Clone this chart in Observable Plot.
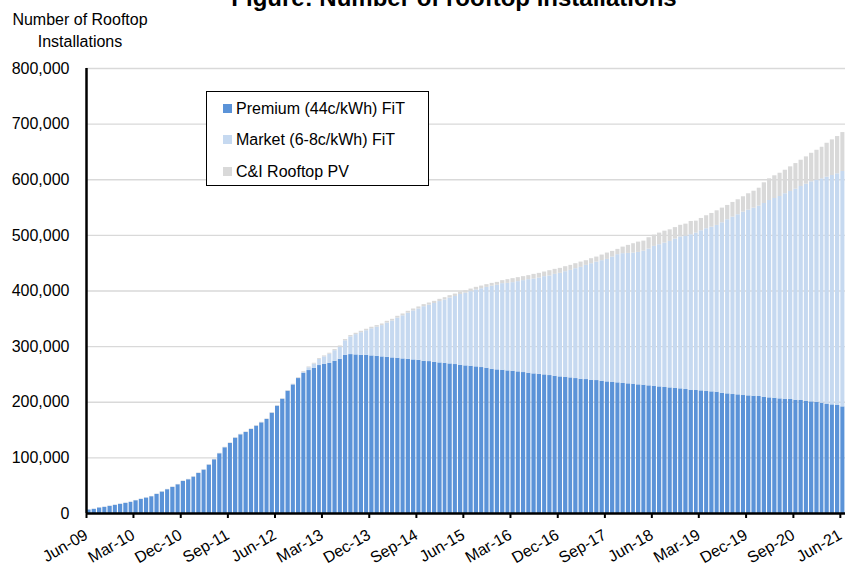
<!DOCTYPE html>
<html><head><meta charset="utf-8">
<script src="https://cdn.jsdelivr.net/npm/d3@7"></script>
<script src="https://cdn.jsdelivr.net/npm/@observablehq/plot@0.6"></script>
<style>
body{margin:0;background:#fff;font-family:Arial,"Liberation Sans",sans-serif;color:#000;}
#wrap{position:relative;width:861px;height:563px;overflow:hidden;}
#chart{position:absolute;left:0;top:0;}
#title{position:absolute;left:0;width:908px;top:-14px;text-align:center;font-weight:bold;font-size:24px;line-height:24px;white-space:nowrap;}
#ytitle{position:absolute;left:0;width:160px;top:9px;text-align:center;font-size:16px;line-height:22px;}
#legend{position:absolute;left:206px;top:91px;width:223px;height:95px;box-sizing:border-box;border:1px solid #000;background:#fff;}
.row{position:absolute;left:0;height:22px;line-height:22px;font-size:16px;white-space:nowrap;}
.sw{position:absolute;left:16px;top:6px;width:9px;height:9px;}
.lt{position:absolute;left:29px;top:0;}
</style></head><body>
<div id="wrap">
<div id="chart"></div>
<div id="title">Figure: Number of rooftop installations</div>
<div id="ytitle">Number of Rooftop<br>Installations</div>
<div id="legend"></div>
</div>
<script>
// First month of the series (Jun-09), one bar per month up to Jun-21
const startMonth = "2009-06";
const seriesNames = ["Premium (44c/kWh) FiT", "Market (6-8c/kWh) FiT", "C&I Rooftop PV"];
const seriesColors = ["#5b93d8", "#c6d9f0", "#d9d9d9"];
const tickLabels = ["Jun-09","Mar-10","Dec-10","Sep-11","Jun-12","Mar-13","Dec-13","Sep-14","Jun-15","Mar-16","Dec-16","Sep-17","Jun-18","Mar-19","Dec-19","Sep-20","Jun-21"];
const yTicks = [0,100000,200000,300000,400000,500000,600000,700000,800000];

const premium = [
6300,7500,9900,11100,12900,14700,16500,18300,20100,23000,
25400,27800,30200,34400,38600,42800,47000,51700,57700,60700,
65500,72100,78100,87100,96600,107400,118200,126000,135500,141500,
145700,151100,157100,163000,169100,180400,193000,205500,219900,231200,
242600,252200,257000,261200,266000,268400,270100,273700,277300,284500,
285700,285100,284500,284500,283300,282700,281500,280900,279700,279100,
277900,277300,276100,275500,273700,273100,271900,270700,270100,268900,
267800,266600,265400,264800,263600,262400,261200,259400,258200,257600,
256400,255800,254600,253400,252200,251000,250400,249200,248000,246800,
245600,245000,243800,242600,241400,240800,239600,239000,237800,236600,
235500,234900,233700,233100,232500,231300,230700,229500,228900,227600,
226500,225800,225300,224100,222900,221700,221100,220500,219300,218700,
218100,216300,215100,213900,213300,212100,211500,210900,210400,209100,
207900,207300,206100,205500,205000,203700,203200,201900,200700,199600,
198300,196600,195300,194200,191700
];
const market = [
0,0,0,0,0,0,0,0,0,0,
0,0,0,0,0,0,0,0,0,0,
0,0,0,0,0,0,0,0,0,0,
0,0,0,0,0,0,0,0,0,300,
700,1600,5000,7300,10800,13100,16100,19000,21800,26000,
31900,36500,40600,44100,48800,52300,56300,61600,66300,72200,
77500,82800,88100,92200,98100,101500,105600,110300,113800,118500,
122400,127100,130700,134100,138300,141700,145300,149300,152100,155600,
157300,159200,162200,165200,168200,170500,172900,176600,179000,183100,
186100,189700,193300,197500,201100,205300,209500,213000,216700,220200,
225500,230400,233400,234500,235700,238100,241000,245800,251300,255600,
259600,263300,268000,273100,275800,279400,283000,287800,292600,296100,
299800,306400,313000,318900,323800,329700,333800,338000,342100,348200,
354800,359000,363800,369300,373900,379300,384700,390100,395600,399600,
403400,408000,412300,416500,423100
];
const candi = [
300,300,300,300,400,400,400,400,400,500,
500,500,500,500,600,600,600,600,700,700,
700,700,800,800,800,800,900,900,900,900,
900,1000,1000,1000,1000,1000,1000,1000,1000,1000,
1200,1400,1500,1600,1700,1800,1900,2000,2100,2200,
2300,2400,2500,2600,2700,2800,2900,3000,3100,3200,
3300,3400,3500,3600,3700,3800,3900,4000,4100,4200,
4300,4400,4500,4600,4700,4800,4900,5000,5200,5400,
6700,7200,7200,7200,7200,8400,8400,8300,9500,9000,
9000,9000,9000,9000,9500,8400,9000,9000,10100,11400,
10200,9500,11800,14400,16800,18500,18000,20500,20300,20900,
21500,20900,20700,20900,21500,23900,21500,22100,23400,24600,
26300,26300,25700,26400,26900,27600,29500,30500,32300,37200,
39000,40800,41800,42300,44300,46100,47200,49100,51300,53800,
56700,61000,64100,67000,70000
];

const start = d3.utcParse("%Y-%m")(startMonth);
const seriesValues = [premium, market, candi];
const data = [];
premium.forEach((_, i) => {
  const date = d3.utcMonth.offset(start, i);
  seriesNames.forEach((s, k) => data.push({date, series: s, value: seriesValues[k][i]}));
});
const parseTick = d3.utcParse("%b-%y");
const tickDates = tickLabels.map(parseTick);
const labelByTime = new Map(tickDates.map((d, i) => [+d, tickLabels[i]]));

const chart = Plot.plot({
  width: 861, height: 563,
  marginLeft: 86, marginRight: 16, marginTop: 68, marginBottom: 50,
  style: {fontFamily: "Arial, 'Liberation Sans', sans-serif", fontSize: "16px", color: "#000", background: "#fff"},
  x: {type: "utc", domain: [start, d3.utcMonth.offset(start, premium.length)], label: null},
  y: {domain: [0, 800000], label: null},
  color: {domain: seriesNames, range: seriesColors},
  marks: [
    Plot.ruleY(yTicks.slice(1), {stroke: "#d9d9d9", strokeWidth: 1.3}),
    Plot.rectY(data, {x: "date", interval: "month", y: "value", fill: "series", order: seriesNames, insetLeft: 0.5, insetRight: 0.6}),
    Plot.axisY({ticks: yTicks, tickSize: 0, tickPadding: 17, tickFormat: d3.format(","), fontSize: 16, label: null}),
    Plot.axisX({ticks: tickDates, tickFormat: d => labelByTime.get(+d), tickRotate: -30, tickSize: 5, strokeWidth: 2, tickPadding: 15, fontSize: 16, label: null}),
    Plot.ruleX([start], {stroke: "#000", strokeWidth: 2.5}),
    Plot.ruleY([0], {stroke: "#000", strokeWidth: 2.5})
  ]
});
document.getElementById("chart").appendChild(chart);

const legend = document.getElementById("legend");
const rowTops = [6, 37, 69];
seriesNames.forEach((s, k) => {
  const row = document.createElement("div");
  row.className = "row";
  row.style.top = rowTops[k] + "px";
  const sw = document.createElement("div");
  sw.className = "sw";
  sw.style.background = seriesColors[k];
  const t = document.createElement("div");
  t.className = "lt";
  t.textContent = s;
  row.appendChild(sw); row.appendChild(t);
  legend.appendChild(row);
});
</script>
</body></html>
